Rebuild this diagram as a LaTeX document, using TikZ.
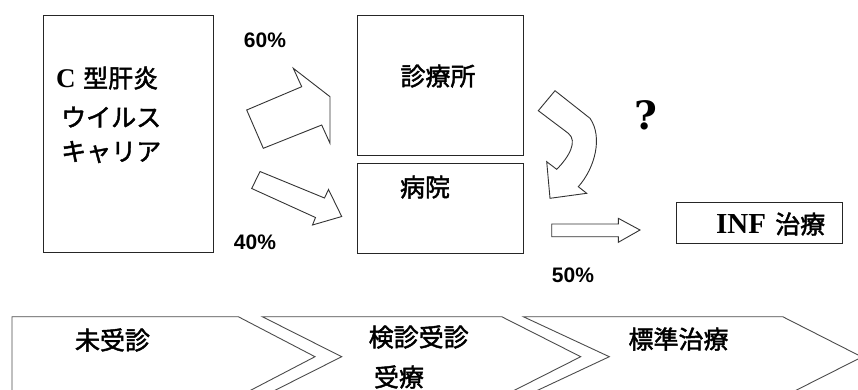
\documentclass[tikz,border=0pt]{standalone}
\usepackage{fontspec}
\setmainfont{Liberation Serif}
\newfontfamily\jp[FakeBold=1.8]{Noto Sans CJK JP}
\newfontfamily\lsans{Liberation Sans}
\newfontfamily\lserif{Liberation Serif}
\newfontfamily\dserif{DejaVu Serif}
\begin{document}
\begin{tikzpicture}[x=1pt,y=-1pt,
  box/.style={draw=black!85, line width=1.2pt, inner sep=0pt},
  arr/.style={draw=black!80, line width=0.9pt, fill=white, line join=miter},
  chev/.style={draw=black!70, line width=0.9pt, line join=miter},
  jt/.style={font=\jp\fontsize{25}{30}\selectfont, inner sep=0pt},
  lat/.style={font=\lserif\bfseries\fontsize{27}{30}\selectfont, inner sep=0pt},
  pct/.style={font=\lsans\bfseries\fontsize{21}{25}\selectfont, inner sep=0pt}]
\useasboundingbox (0,0) rectangle (858,389);
\clip (0,0) rectangle (858,389);

% boxes
\node[box, minimum width=170pt, minimum height=237pt, anchor=north west] (carrier) at (43,15) {};
\node[box, minimum width=166pt, minimum height=140pt, anchor=north west] (clinic) at (357,15) {};
\node[box, minimum width=166pt, minimum height=90pt, anchor=north west] (hosp) at (357,163) {};
\node[box, minimum width=166pt, minimum height=41pt, anchor=north west] (inf) at (676,202) {};

% box texts
\node[lat, anchor=base west] (tc) at (56,87) {C};
\node[jt, anchor=west] (t1) at (83,78) {型肝炎};
\node[jt, anchor=west] (t2) at (61,117) {ウイルス};
\node[jt, anchor=west] (t3) at (61,152) {キャリア};
\node[jt] (tclinic) at (438,76) {診療所};
\node[jt] (thosp) at (425,187) {病院};
\node[lat, anchor=base west, font=\lserif\bfseries\fontsize{29}{32}\selectfont] (tinf) at (716,233.5) {INF};
\node[jt, anchor=west] (tinf2) at (775,224) {治療};
\node[inner sep=0pt, font=\dserif\bfseries\fontsize{39}{44}\selectfont] (q) at (646,115) {?};

% percentages
\node[pct] (p60) at (265,40) {60\%};
\node[pct] (p40) at (255,242) {40\%};
\node[pct] (p50) at (573,275) {50\%};

% block arrows
\draw[arr] (246.7,110) -- (263.3,148.3) -- (321.7,125) -- (330,143.3) -- (330,96.7) -- (293.3,68.3) -- (301.7,86.7) -- cycle;
\draw[arr] (260,171.5) -- (251.7,188.5) -- (315.5,217.5) -- (312.5,225) -- (341.7,216.5) -- (328.5,189.5) -- (324.5,198) -- cycle;
\draw[arr] (555,90.7) -- (538.3,110.7) -- (568.3,133.3)
  .. controls (578,141) and (569,157) .. (556.7,169.3)
  -- (546.7,161.7) -- (550,198.3) -- (586.7,193.3) -- (578.3,186.7)
  .. controls (595,168) and (603,137) .. (590,118.3) -- cycle;
\draw[arr] (551.7,224) -- (618.3,224) -- (618.3,218.3) -- (640,230) -- (618.3,242.3) -- (618.3,236.7) -- (551.7,236.7) -- cycle;

% chevrons
\draw[chev, fill=white] (12,316.7) -- (238.3,316.7) -- (315,356.7) -- (238.3,396.7) -- (12,396.7) -- cycle;
\draw[chev, fill=white] (262.3,316.7) -- (501.7,316.7) -- (580.7,356.7) -- (501.7,396.7) -- (262.3,396.7) -- (341.7,356.7) -- cycle;
\draw[chev, fill=white] (523.3,316.7) -- (782.7,316.7) -- (862,357) -- (782.7,397) -- (523.3,397) -- (609.3,356.7) -- cycle;

% chevron texts
\node[jt] (c1) at (112.5,340) {未受診};
\node[jt] (c2) at (418.7,337) {検診受診};
\node[jt] (c2b) at (399,377) {受療};
\node[jt] (c3) at (678.5,339) {標準治療};
\end{tikzpicture}
\end{document}
